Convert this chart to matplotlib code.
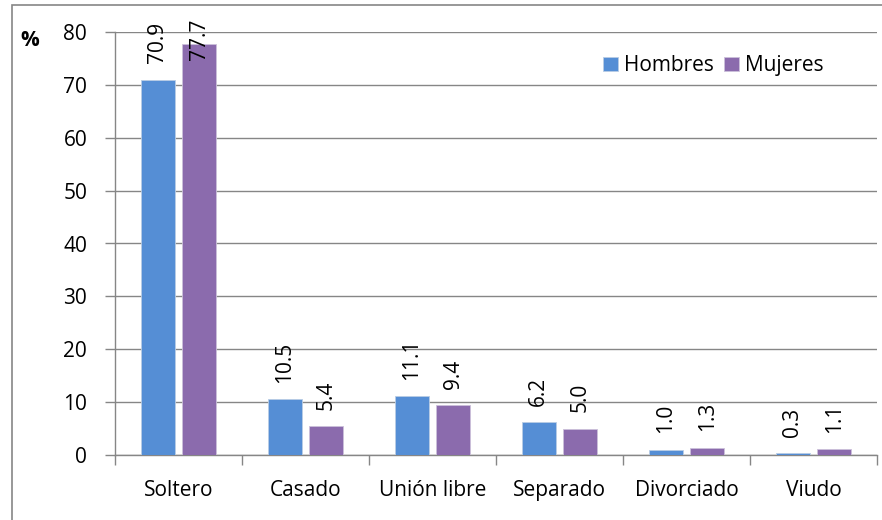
import numpy as np
import matplotlib.pyplot as plt
from matplotlib.patches import Rectangle

categorias = ["Soltero", "Casado", "Unión libre", "Separado", "Divorciado", "Viudo"]
hombres = [70.9, 10.5, 11.1, 6.2, 1.0, 0.3]
mujeres = [77.7, 5.4, 9.4, 5.0, 1.3, 1.1]

plt.rcParams['font.family'] = ['Open Sans', 'DejaVu Sans']
fs = 15

fig = plt.figure(figsize=(8.82, 5.2), dpi=100)
ax = fig.add_axes([115/882, 1 - 455/520, (877-115)/882, (455-32)/520])

# marco exterior del gráfico
fig.patches.append(Rectangle((12/882, -0.1), 1.2, 1 - 5/520 + 0.1,
                             transform=fig.transFigure, fill=False,
                             edgecolor='#868686', linewidth=1.2))

x = np.arange(len(categorias))
ancho = 0.27
desp = 0.163
azul = '#558ED5'
morado = '#8B6BAD'
b1 = ax.bar(x - desp, hombres, ancho, color=azul, edgecolor='#B9CDE5', linewidth=0.6, label='Hombres', zorder=3)
b2 = ax.bar(x + desp, mujeres, ancho, color=morado, edgecolor='#CCC1DA', linewidth=0.6, label='Mujeres', zorder=3)

# etiquetas verticales; la más alta queda recortada dentro del área como en Excel
for barras, vals in ((b1, hombres), (b2, mujeres)):
    for r, v in zip(barras, vals):
        ax.annotate(f"{v:.1f}", (r.get_x() + r.get_width()/2, min(v, 71.5)), xytext=(0, 12),
                    textcoords='offset points', rotation=90, ha='center', va='bottom',
                    fontsize=fs, annotation_clip=False, zorder=4)

ax.set_xlim(-0.5, len(categorias) - 0.5)
ax.set_ylim(0, 80)
ax.set_yticks(range(0, 81, 10))
ax.yaxis.grid(True, color='#868686', linewidth=1.0, zorder=0)
ax.set_axisbelow(True)

ax.set_xticks(x)
ax.set_xticklabels(categorias, fontsize=fs)
ax.set_xticks(np.arange(-0.5, len(categorias)), minor=True)
ax.tick_params(axis='x', which='major', length=0, pad=18)
ax.tick_params(axis='x', which='minor', length=7, color='#868686', width=1.0, direction='out')
ax.tick_params(axis='y', length=7, color='#868686', width=1.0, labelsize=fs, pad=13)

for s in ['top', 'right']:
    ax.spines[s].set_visible(False)
for s in ['left', 'bottom']:
    ax.spines[s].set_color('#868686')
    ax.spines[s].set_linewidth(1.0)

fig.text(30/882, 1 - 41/520, "%", fontsize=fs, fontweight='bold', va='center', ha='center')

ax.legend(loc='upper right', bbox_to_anchor=(0.93, 0.945), ncol=2, frameon=False,
          fontsize=fs, handlelength=0.7, handleheight=0.7, handletextpad=0.3,
          columnspacing=0.5, borderaxespad=0, borderpad=0)

fig.savefig("out.png", dpi=100)
